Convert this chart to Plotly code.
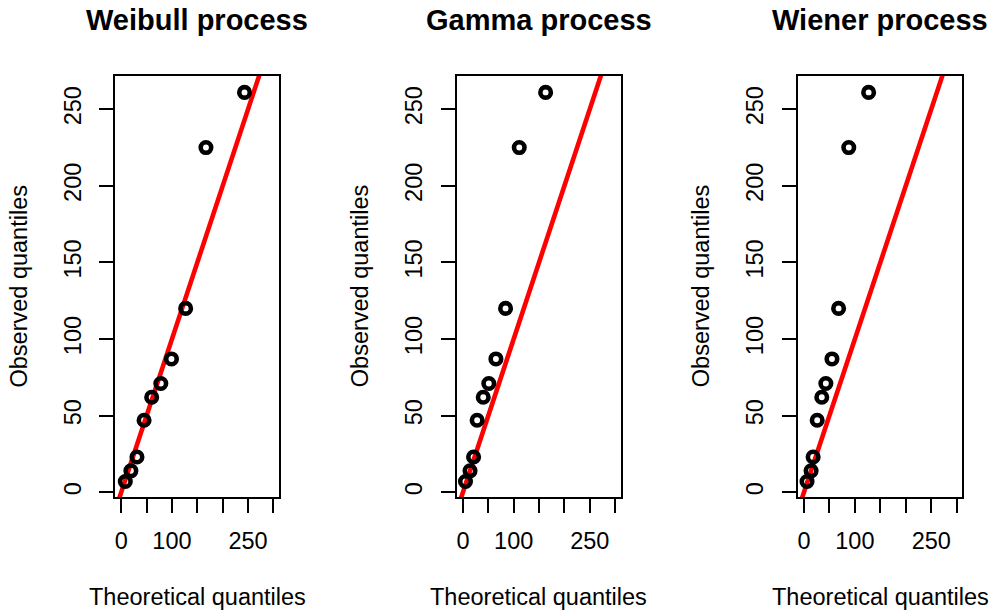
import plotly.graph_objects as go

# ---- data ----
panel_titles = ["Weibull process", "Gamma process", "Wiener process"]
observed = [7, 14, 23, 47, 62, 71, 87, 120, 225, 261]
weibull_theoretical = [8, 19, 31, 45, 60, 78, 99, 127, 167, 243]
gamma_theoretical = [5, 14, 21, 28, 40, 51, 65, 84, 111, 163]
wiener_theoretical = [6, 14, 18, 26, 35, 43, 55, 68, 88, 127]
ref_line = [-20, 320]  # y = x reference line

x_tickvals = [0, 50, 100, 150, 200, 250, 300]
x_ticktext = ["0", "", "100", "", "", "250", ""]
y_tickvals = [0, 50, 100, 150, 200, 250]
y_ticktext = ["0", "50", "100", "150", "200", "250"]

W, H = 995, 613
FONT = "Liberation Sans, Arial, Helvetica, sans-serif"

# panel boxes in pixels
boxes_x = [(115, 279), (456.7, 620.7), (797.7, 962.3)]
box_top, box_bottom = 76, 497
ydom = [1 - box_bottom / H, 1 - box_top / H]

theoretical = [weibull_theoretical, gamma_theoretical, wiener_theoretical]

fig = go.Figure()
annotations = []
for i, (title, theo) in enumerate(zip(panel_titles, theoretical)):
    n = "" if i == 0 else str(i + 1)
    xa, ya = "x" + n, "y" + n
    fig.add_trace(go.Scatter(
        x=ref_line, y=ref_line, mode="lines",
        line=dict(color="#ff0000", width=4.6),
        xaxis=xa, yaxis=ya, showlegend=False, hoverinfo="skip"))
    fig.add_trace(go.Scatter(
        x=theo, y=observed, mode="markers",
        marker=dict(symbol="circle-open", size=10.5, color="black",
                    line=dict(width=4.6, color="black")),
        xaxis=xa, yaxis=ya, showlegend=False, cliponaxis=False))
    x0, x1 = boxes_x[i]
    axis_common = dict(showline=True, mirror=True, linecolor="black", linewidth=2,
                       showgrid=False, zeroline=False, ticks="outside", ticklen=14,
                       tickwidth=2, tickcolor="black", automargin=False,
                       tickfont=dict(family=FONT, size=23.5, color="black"))
    fig.update_layout(**{
        ("xaxis" + n): dict(domain=[x0 / W, x1 / W], range=[-12.3, 311],
                            tickmode="array", tickvals=x_tickvals, ticktext=x_ticktext,
                            anchor=ya, ticklabelstandoff=8, **axis_common),
        ("yaxis" + n): dict(domain=ydom, range=[-3.1, 271.7],
                            tickmode="array", tickvals=y_tickvals, ticktext=y_ticktext,
                            tickangle=-90, anchor=xa, ticklabelstandoff=9, **axis_common),
    })
    cx = (x0 + x1) / 2 / W
    annotations.append(dict(text="<b>" + title + "</b>", x=cx, y=1 - 20 / H,
                            xref="paper", yref="paper", showarrow=False,
                            xanchor="center", yanchor="middle",
                            font=dict(family=FONT, size=29, color="black")))
    annotations.append(dict(text="Theoretical quantiles", x=cx, y=1 - 597 / H,
                            xref="paper", yref="paper", showarrow=False,
                            xanchor="center", yanchor="middle",
                            font=dict(family=FONT, size=23.5, color="black")))
    annotations.append(dict(text="Observed quantiles", x=(x0 - 97) / W,
                            y=1 - (box_top + box_bottom) / 2 / H,
                            xref="paper", yref="paper", showarrow=False, textangle=-90,
                            xanchor="center", yanchor="middle",
                            font=dict(family=FONT, size=23.5, color="black")))

fig.update_layout(width=W, height=H, margin=dict(l=0, r=0, t=0, b=0),
                  paper_bgcolor="white", plot_bgcolor="white",
                  annotations=annotations)
fig.write_html("out.html")
